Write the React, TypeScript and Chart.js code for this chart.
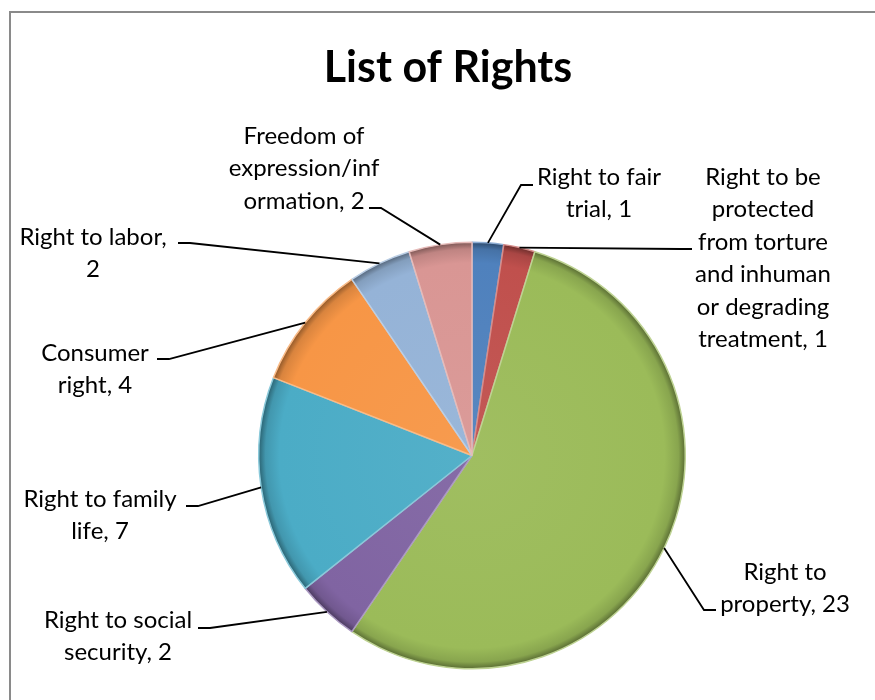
import React, { useEffect, useRef } from "react";
import { Chart, registerables } from "chart.js";

Chart.register(...registerables);

const categories: string[][] = [
  ["Right to fair", "trial, 1"],
  ["Right to be", "protected", "from torture", "and inhuman", "or degrading", "treatment, 1"],
  ["Right to", "property, 23"],
  ["Right to social", "security, 2"],
  ["Right to family", "life, 7"],
  ["Consumer", "right, 4"],
  ["Right to labor,", "2"],
  ["Freedom of", "expression/inf", "ormation, 2"],
];
const names: string[] = [
  "Right to fair trial",
  "Right to be protected from torture and inhuman or degrading treatment",
  "Right to property",
  "Right to social security",
  "Right to family life",
  "Consumer right",
  "Right to labor",
  "Freedom of expression/information",
];
const values: number[] = [1, 1, 23, 2, 7, 4, 2, 2];
const colors: string[] = ["#4F81BD", "#C0504D", "#9BBB59", "#8064A2", "#4BACC6", "#F79646", "#95B3D7", "#D99694"];

// label layout: text centre x, first line centre y, and the hook end of the leader line
const labelLayout = [
  { x: 599, y: 177, hx: 533, hy: 185, side: -1 },
  { x: 763, y: 177, hx: 692, hy: 249, side: -1 },
  { x: 785, y: 572, hx: 716, hy: 610, side: -1 },
  { x: 118, y: 620, hx: 198, hy: 628, side: 1 },
  { x: 100, y: 499, hx: 186, hy: 506, side: 1 },
  { x: 95, y: 353, hx: 157, hy: 359, side: 1 },
  { x: 93, y: 237, hx: 178, hy: 243, side: 1 },
  { x: 304, y: 136, hx: 369, hy: 208, side: 1 },
];

function shade(hex: string, f: number): string {
  const n = parseInt(hex.slice(1), 16);
  let r = (n >> 16) & 255, g = (n >> 8) & 255, b = n & 255;
  if (f < 0) {
    r = Math.round(r * (1 + f)); g = Math.round(g * (1 + f)); b = Math.round(b * (1 + f));
  } else {
    r = Math.round(r + (255 - r) * f); g = Math.round(g + (255 - g) * f); b = Math.round(b + (255 - b) * f);
  }
  return `rgb(${r},${g},${b})`;
}

const FONT = "Lato, 'Open Sans', sans-serif";

const decorPlugin = {
  id: "decor",
  beforeDraw(chart: any) {
    const ctx = chart.ctx;
    ctx.save();
    ctx.fillStyle = "#ffffff";
    ctx.fillRect(0, 0, chart.width, chart.height);
    ctx.strokeStyle = "#8a8a8a";
    ctx.lineWidth = 2;
    ctx.strokeRect(10, 12, 1000, 1000);
    ctx.fillStyle = "#000";
    ctx.font = `bold 43px ${FONT}`;
    ctx.textAlign = "center";
    ctx.textBaseline = "alphabetic";
    ctx.fillText("List of Rights", 448, 82);
    ctx.restore();
  },
  afterDraw(chart: any) {
    const ctx = chart.ctx;
    const meta = chart.getDatasetMeta(0);
    ctx.save();
    ctx.font = `24px ${FONT}`;
    ctx.fillStyle = "#000";
    ctx.textAlign = "center";
    ctx.textBaseline = "middle";
    meta.data.forEach((arc: any, i: number) => {
      const L = labelLayout[i];
      const mid = (arc.startAngle + arc.endAngle) / 2;
      const px = arc.x + Math.cos(mid) * arc.outerRadius;
      const py = arc.y + Math.sin(mid) * arc.outerRadius;
      ctx.strokeStyle = "#000";
      ctx.lineWidth = 1.8;
      ctx.beginPath();
      ctx.moveTo(L.hx, L.hy);
      ctx.lineTo(L.hx + (L.side > 0 ? 12 : -12), L.hy);
      ctx.lineTo(px, py);
      ctx.stroke();
      categories[i].forEach((line, k) => {
        ctx.fillText(line, L.x, L.y + k * 32.5);
      });
    });
    ctx.restore();
  },
};

export default function App() {
  const ref = useRef<HTMLCanvasElement | null>(null);
  useEffect(() => {
    if (!ref.current) return;
    const chart = new Chart(ref.current, {
      type: "pie",
      data: {
        labels: names,
        datasets: [
          {
            data: values,
            backgroundColor: (c: any) => {
              const base = colors[c.dataIndex];
              const a = c.chart.chartArea;
              if (!a) return base;
              const cx = (a.left + a.right) / 2;
              const cy = (a.top + a.bottom) / 2;
              const r = Math.min(a.right - a.left, a.bottom - a.top) / 2;
              const g = c.chart.ctx.createRadialGradient(cx, cy, 0, cx, cy, r);
              g.addColorStop(0, shade(base, 0.05));
              g.addColorStop(0.9, base);
              g.addColorStop(0.965, shade(base, -0.12));
              g.addColorStop(1, shade(base, -0.45));
              return g;
            },
            borderColor: colors.map((c) => shade(c, 0.35)),
            borderWidth: 1.5,
          },
        ],
      },
      options: {
        animation: false,
        responsive: true,
        maintainAspectRatio: false,
        layout: { padding: { left: 258, right: 189, top: 241, bottom: 30 } },
        plugins: { legend: { display: false }, title: { display: false }, tooltip: { enabled: false } },
      },
      plugins: [decorPlugin],
    });
    return () => chart.destroy();
  }, []);
  return (
    <div style={{ position: "fixed", left: 0, top: 0, width: 875, height: 700, background: "#fff" }}>
      <canvas ref={ref} />
    </div>
  );
}
